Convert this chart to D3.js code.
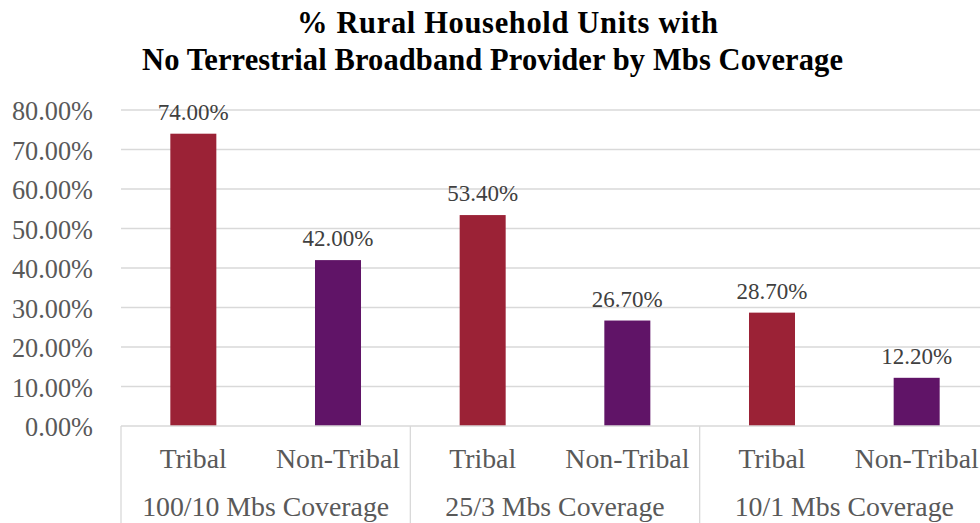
<!DOCTYPE html>
<html>
<head>
<meta charset="utf-8">
<script src="https://cdn.jsdelivr.net/npm/d3@7"></script>
<style>
  html, body { margin: 0; padding: 0; background: #ffffff; overflow: hidden; }
  svg { display: block; }
</style>
</head>
<body>
<script>
// Coverage tiers (outer axis level) and household types (inner level)
const groups = ["100/10 Mbs Coverage", "25/3 Mbs Coverage", "10/1 Mbs Coverage"];
const types = ["Tribal", "Non-Tribal"];
// Share of rural household units with no terrestrial provider, in percent
const tribalValues = [74.0, 53.4, 28.7];
const nonTribalValues = [42.0, 26.7, 12.2];
const yTicks = [0, 10, 20, 30, 40, 50, 60, 70, 80];
const titleLines = ["% Rural Household Units with", "No Terrestrial Broadband Provider by Mbs Coverage"];

const W = 980, H = 523;
const plot = { left: 121, right: 989, top: 110, bottom: 426 };
const colors = { "Tribal": "#9b2236", "Non-Tribal": "#601467" };
const serif = "'Liberation Serif', 'Times New Roman', serif";
const titleLayout = [{ cx: 507.5, base: 33, len: 421 }, { cx: 492.5, base: 70, len: 701 }];

const rows = [];
groups.forEach((g, i) => {
  rows.push({ group: g, type: types[0], value: tribalValues[i], key: g + "|" + types[0] });
  rows.push({ group: g, type: types[1], value: nonTribalValues[i], key: g + "|" + types[1] });
});

const svg = d3.select("body").append("svg").attr("width", W).attr("height", H);

const y = d3.scaleLinear().domain([0, 80]).range([plot.bottom, plot.top]);
const xGroup = d3.scaleBand().domain(groups).range([plot.left, plot.right]);
const x = d3.scaleBand().domain(rows.map(d => d.key))
  .range([plot.left, plot.right]).paddingInner(0.682).paddingOuter(0.341);

// Title
svg.append("g").selectAll("text").data(titleLines).join("text")
  .attr("x", (d, i) => titleLayout[i].cx)
  .attr("y", (d, i) => titleLayout[i].base)
  .attr("text-anchor", "middle")
  .attr("textLength", (d, i) => titleLayout[i].len)
  .attr("lengthAdjust", "spacing")
  .attr("font-family", serif).attr("font-weight", "bold").attr("font-size", 30.5)
  .attr("fill", "#000").text(d => d);

// Horizontal gridlines
svg.append("g").selectAll("line").data(yTicks.filter(t => t > 0)).join("line")
  .attr("x1", plot.left).attr("x2", W)
  .attr("y1", d => y(d)).attr("y2", d => y(d))
  .attr("stroke", "#d9d9d9").attr("stroke-width", 1.3);

// Y axis labels
const yAxis = d3.axisLeft(y).tickValues(yTicks).tickSize(0).tickPadding(0)
  .tickFormat(d => d3.format(".2f")(d) + "%");
const yg = svg.append("g").attr("transform", `translate(${plot.left - 28},0)`).call(yAxis);
yg.select(".domain").remove();
yg.selectAll("text").attr("font-family", serif).attr("font-size", 26.3)
  .attr("fill", "#595959").attr("dy", "0.37em");

// Bars
svg.append("g").selectAll("rect").data(rows).join("rect")
  .attr("x", d => x(d.key)).attr("width", x.bandwidth())
  .attr("y", d => y(d.value)).attr("height", d => y(0) - y(d.value))
  .attr("fill", d => colors[d.type]);

// Value labels
svg.append("g").selectAll("text").data(rows).join("text")
  .attr("x", d => x(d.key) + x.bandwidth() / 2)
  .attr("y", d => y(d.value) - 14)
  .attr("text-anchor", "middle")
  .attr("font-family", serif).attr("font-size", 23).attr("fill", "#404040")
  .text(d => d3.format(".2f")(d.value) + "%");

// Category axis: baseline and group separators
const axisG = svg.append("g");
axisG.append("line").attr("x1", plot.left).attr("x2", W)
  .attr("y1", y(0)).attr("y2", y(0)).attr("stroke", "#d9d9d9").attr("stroke-width", 1.3);
axisG.selectAll("line.sep").data(groups.concat(["end"])).join("line").attr("class", "sep")
  .attr("x1", (d, i) => i < groups.length ? xGroup(d) : plot.right)
  .attr("x2", (d, i) => i < groups.length ? xGroup(d) : plot.right)
  .attr("y1", y(0)).attr("y2", H)
  .attr("stroke", "#d9d9d9").attr("stroke-width", 1.3);

// Inner labels
const xAxis = d3.axisBottom(x).tickSize(0).tickPadding(0).tickFormat(k => k.split("|")[1]);
const xg = svg.append("g").attr("transform", `translate(0,${y(0)})`).call(xAxis);
xg.select(".domain").remove();
xg.selectAll("text").attr("font-family", serif).attr("font-size", 27.8)
  .attr("fill", "#595959").attr("dy", null).attr("y", 42);

// Outer group labels
svg.append("g").selectAll("text").data(groups).join("text")
  .attr("x", d => xGroup(d) + xGroup.bandwidth() / 2)
  .attr("y", 516)
  .attr("text-anchor", "middle")
  .attr("font-family", serif).attr("font-size", 27.8).attr("fill", "#595959")
  .text(d => d);
</script>
</body>
</html>
